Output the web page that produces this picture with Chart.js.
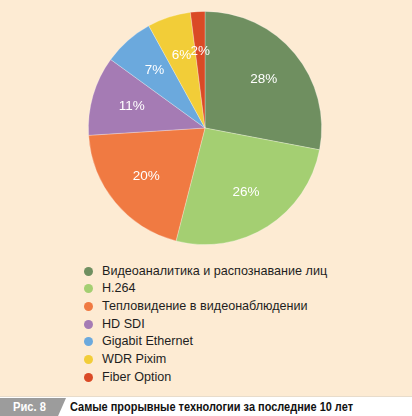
<!DOCTYPE html>
<html><head><meta charset="utf-8">
<script src="https://cdn.jsdelivr.net/npm/chart.js@4"></script>
<style>
html,body{margin:0;padding:0;width:412px;height:416px;overflow:hidden;background:#fff;}
#wrap{position:absolute;left:0;top:0;width:412px;height:396px;background:#fdebd3;}
#c{position:absolute;left:0;top:0;}
#legend{position:absolute;left:84px;top:262.5px;font-family:"Liberation Sans",Arial,sans-serif;font-size:12.6px;color:#1e1e1e;}
#legend .row{height:17.7px;line-height:17.7px;white-space:nowrap;}
#legend .dot{display:inline-block;width:9px;height:9px;border-radius:50%;margin-right:9px;vertical-align:-1px;}
#sep{position:absolute;left:0;top:396px;width:412px;height:1px;background:#e8dccb;}
#tab{position:absolute;left:0;top:398px;width:66px;height:18px;background:#9c9c9c;clip-path:polygon(0 0,100% 0,88% 100%,0 100%);}
.cond{position:absolute;white-space:nowrap;transform-origin:0 0;font:bold 13px "Liberation Sans",Arial,sans-serif;}
#tabt{left:13px;top:399px;color:#fff;}
#cap{left:70px;top:399px;color:#111;}
</style></head><body>
<div id="wrap"><canvas id="c" width="412" height="256"></canvas><div id="legend"></div></div>
<div id="sep"></div>
<div id="tab"></div>
<div id="tabt" class="cond">Рис. 8</div>
<div id="cap" class="cond">Самые прорывные технологии за последние 10 лет</div>
<script>
const categories = ["Видеоаналитика и распознавание лиц","H.264","Тепловидение в видеонаблюдении","HD SDI","Gigabit Ethernet","WDR Pixim","Fiber Option"];
const shares = [28,26,20,11,7,6,2];
const colors = ["#6f8f60","#a4cf72","#f07a42","#a57bb4","#6ba9dd","#f2cd38","#da4a26"];

// condense caption texts to reference widths
[["cap",283],["tabt",33]].forEach(([id,w])=>{
  const el=document.getElementById(id);
  const nat=el.getBoundingClientRect().width;
  el.style.transform='scaleX('+(w/nat)+')';
});

const legend = document.getElementById('legend');
categories.forEach((c,i)=>{
  const r=document.createElement('div');r.className='row';
  const d=document.createElement('span');d.className='dot';d.style.background=colors[i];
  r.appendChild(d);r.appendChild(document.createTextNode(c));legend.appendChild(r);
});

const labelPlugin = {
  id:'sliceLabels',
  afterDatasetsDraw(chart){
    const ctx=chart.ctx;
    const meta=chart.getDatasetMeta(0);
    ctx.save();
    ctx.fillStyle='#ffffff';
    ctx.font='13.5px "Liberation Sans", Arial, sans-serif';
    ctx.textAlign='center';ctx.textBaseline='middle';
    meta.data.forEach((arc,i)=>{
      const p=arc.getProps(['x','y','startAngle','endAngle','outerRadius'],true);
      const a=(p.startAngle+p.endAngle)/2;
      const r=p.outerRadius*0.655;
      ctx.fillText(shares[i]+'%',p.x+Math.cos(a)*r,p.y+Math.sin(a)*r);
    });
    ctx.restore();
  }
};

new Chart(document.getElementById('c'),{
  type:'pie',
  data:{labels:categories,datasets:[{data:shares,backgroundColor:colors,borderColor:'rgba(255,255,255,0.35)',borderWidth:0.8}]},
  options:{responsive:false,animation:false,
    layout:{padding:{top:11,bottom:11,left:0,right:2}},
    plugins:{legend:{display:false},tooltip:{enabled:false}}},
  plugins:[labelPlugin]
});
</script>
</body></html>
